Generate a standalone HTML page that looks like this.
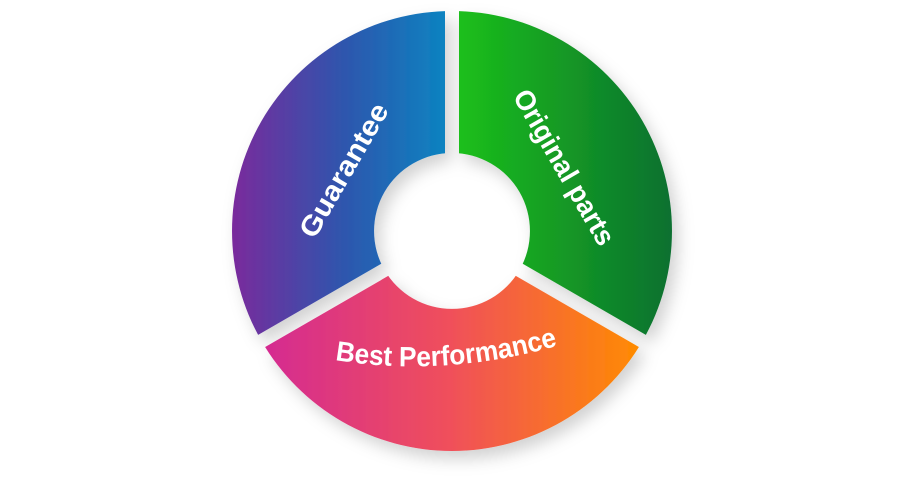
<!DOCTYPE html>
<html><head><meta charset="utf-8"><style>
html,body{margin:0;padding:0;background:#fff;width:900px;height:500px;overflow:hidden}
text{font-family:"Liberation Sans",sans-serif;font-weight:bold;fill:#fff}
</style></head><body>
<svg width="900" height="500" viewBox="0 0 900 500" xmlns="http://www.w3.org/2000/svg">
<defs>
<linearGradient id="gl" x1="232" y1="0" x2="452" y2="0" gradientUnits="userSpaceOnUse">
<stop offset="0" stop-color="#7a2a9c"/><stop offset="0.5" stop-color="#2f55ad"/><stop offset="1" stop-color="#0a86c2"/></linearGradient>
<linearGradient id="gr" x1="452" y1="0" x2="672" y2="0" gradientUnits="userSpaceOnUse">
<stop offset="0" stop-color="#1cc21a"/><stop offset="1" stop-color="#0b7030"/></linearGradient>
<linearGradient id="gb" x1="262" y1="0" x2="642" y2="0" gradientUnits="userSpaceOnUse">
<stop offset="0" stop-color="#d42a92"/><stop offset="0.5" stop-color="#f0505a"/><stop offset="1" stop-color="#ff8c00"/></linearGradient>
<filter id="sh" x="-20%" y="-20%" width="140%" height="140%"><feDropShadow dx="6" dy="8" stdDeviation="8" flood-color="#000" flood-opacity="0.18"/></filter>
<mask id="m"><rect width="900" height="500" fill="#fff"/>
<g stroke="#000" stroke-width="14">
<line x1="452" y1="231" x2="452" y2="0"/>
<line x1="452" y1="231" x2="240" y2="353.4"/>
<line x1="452" y1="231" x2="664" y2="353.4"/>
</g></mask>
</defs>
<g filter="url(#sh)"><g mask="url(#m)">
<path d="M452,11 A220,220 0 0 0 261.5,341 L384.5,270 A78,78 0 0 1 452,153 Z" fill="url(#gl)"/>
<path d="M452,11 A220,220 0 0 1 642.5,341 L519.5,270 A78,78 0 0 0 452,153 Z" fill="url(#gr)"/>
<path d="M261.5,341 A220,220 0 0 0 642.5,341 L519.5,270 A78,78 0 0 1 384.5,270 Z" fill="url(#gb)"/>
</g></g>
<text x="0" y="0" font-size="28" text-anchor="middle" transform="translate(352,175) rotate(-60)" textLength="150" lengthAdjust="spacingAndGlyphs">Guarantee</text>
<text x="0" y="0" font-size="28" text-anchor="middle" transform="translate(556,172) rotate(60)" textLength="175" lengthAdjust="spacingAndGlyphs">Original parts</text>
<path id="bp" d="M335,360 Q445,378 560,345" fill="none"/>
<text font-size="28"><textPath href="#bp" textLength="225" lengthAdjust="spacingAndGlyphs">Best Performance</textPath></text>
</svg>
</body></html>
